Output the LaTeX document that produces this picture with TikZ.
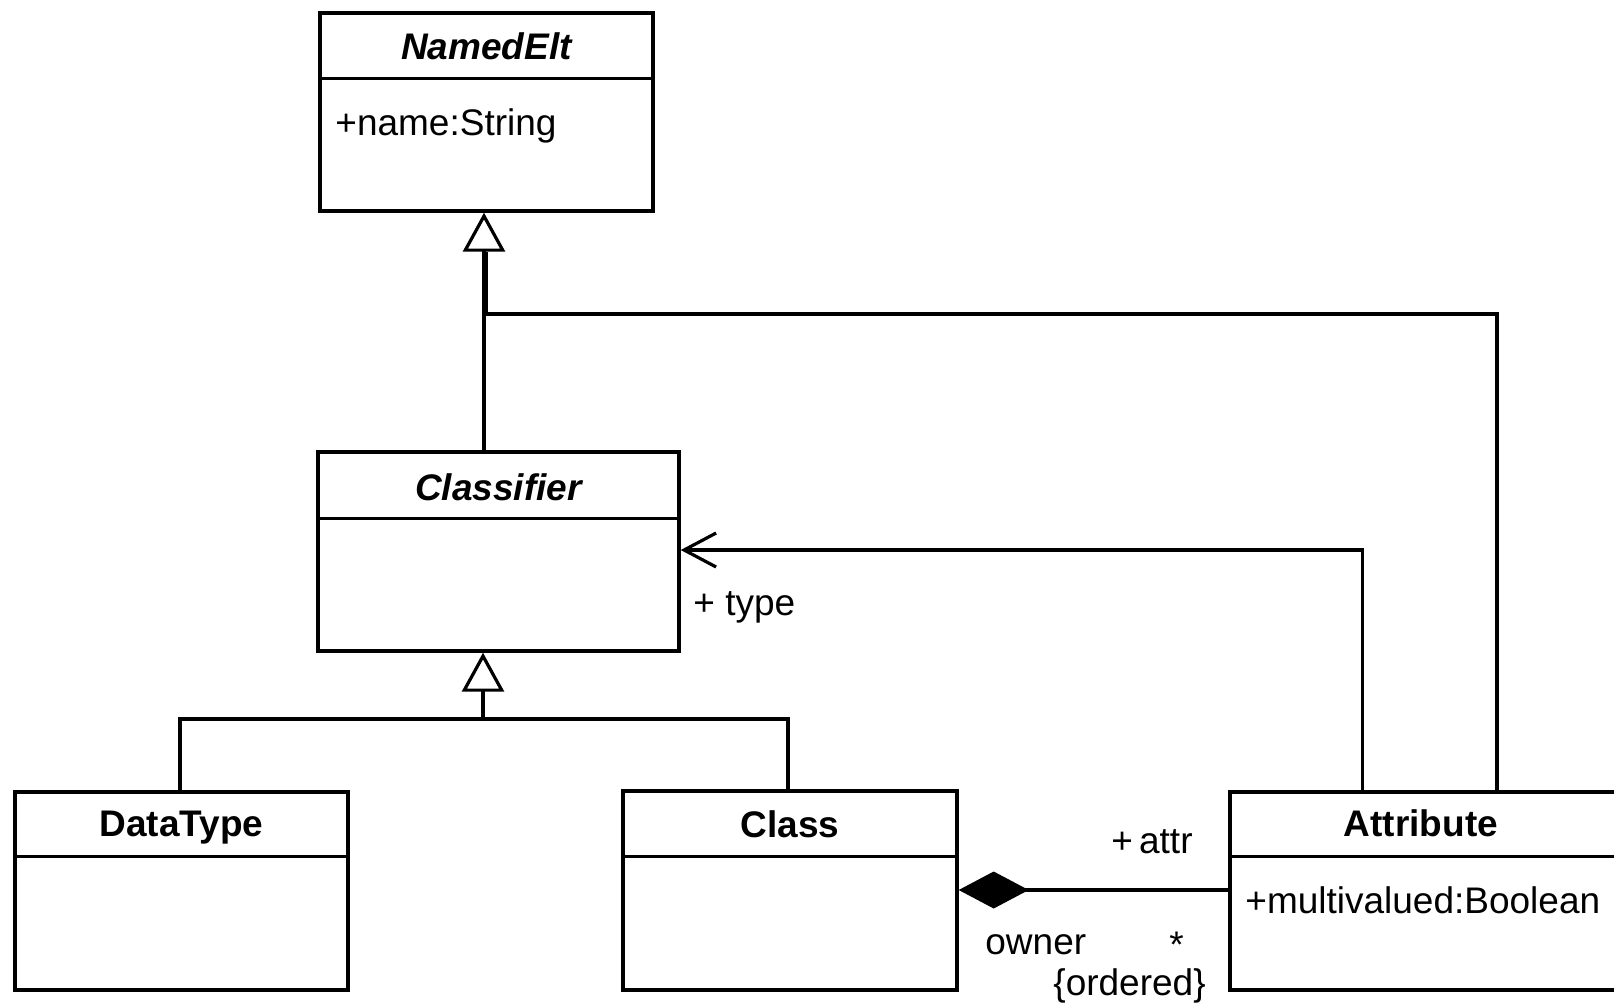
\documentclass[tikz,border=0pt]{standalone}
\usepackage{fontspec}
\setmainfont{Liberation Sans}
\usetikzlibrary{arrows.meta}

\tikzset{
  umlbox/.style={draw, line width=1.7pt, rectangle, inner sep=0pt},
  divider/.style={line width=1.7pt},
  conn/.style={line width=1.6pt},
  gen/.style={conn, -{Triangle[open, length=19.5pt, width=21pt, line width=1.6pt]}},
  nav/.style={conn, {Straight Barb[length=16pt, width=17pt, line width=1.6pt]}-},
  comp/.style={conn, {Diamond[length=35pt, width=18.5pt]}-},
  title/.style={anchor=base, inner sep=0pt, font=\fontsize{18.5}{22}\selectfont\bfseries},
  atitle/.style={title, font=\fontsize{18.5}{22}\selectfont\bfseries\itshape},
  member/.style={anchor=base west, inner sep=0pt, font=\fontsize{18.5}{22}\selectfont},
  role/.style={inner sep=0pt, font=\fontsize{18.5}{22}\selectfont},
}

\begin{document}
\begin{tikzpicture}[x=0.5pt, y=-0.5pt]
  \useasboundingbox (0,0) rectangle (1614,1003);

  % class boxes
  \node[umlbox, minimum width=166.5pt, minimum height=99pt]   (namedelt)   at (486.5,112)  {};
  \node[umlbox, minimum width=180.5pt, minimum height=99.5pt] (classifier) at (498.5,551.5) {};
  \node[umlbox, minimum width=166.5pt, minimum height=99pt]   (datatype)   at (181.5,891)  {};
  \node[umlbox, minimum width=167pt,   minimum height=99.5pt] (class)      at (790,890.5)  {};
  \node[umlbox, minimum width=195pt,   minimum height=99pt]   (attribute)  at (1425,891)   {};

  % compartment dividers
  \draw[divider] ([yshift=-33.5pt]namedelt.north west)   -- ([yshift=-33.5pt]namedelt.north east);
  \draw[divider] ([yshift=-34pt]classifier.north west)   -- ([yshift=-34pt]classifier.north east);
  \draw[divider] ([yshift=-33pt]datatype.north west)     -- ([yshift=-33pt]datatype.north east);
  \draw[divider] ([yshift=-33.5pt]class.north west)      -- ([yshift=-33.5pt]class.north east);
  \draw[divider] ([yshift=-33pt]attribute.north west)    -- ([yshift=-33pt]attribute.north east);

  % class names and members
  \node[atitle] (namedelt-name)   at (486.5,59)  {NamedElt};
  \node[member] (namedelt-attr)   at (335,135)   {+name:String};
  \node[atitle] (classifier-name) at (498.5,500) {Classifier};
  \node[title]  (datatype-name)   at (181.5,836) {DataType};
  \node[title]  (class-name)      at (790,837)   {Class};
  \node[title]  (attribute-name)  at (1421,836)  {Attribute};
  \node[member] (attribute-attr)  at (1245,913)  {+multivalued:Boolean};

  % routing points
  \coordinate (gx)    at (484,0);
  \coordinate (gbase) at (486.5,252);
  \coordinate (bend)  at (486.5,314);
  \coordinate (ax)    at (1497,0);
  \coordinate (tx)    at (1362.5,0);
  \coordinate (ty)    at (0,550);
  \coordinate (jn)    at (483,719);
  \coordinate (dx)    at (180,0);
  \coordinate (cx)    at (788,0);
  \coordinate (cy)    at (0,890);

  % generalisations towards NamedElt
  \draw[gen] (classifier.north -| gx) -- (namedelt.south -| gx);
  \draw[conn] (attribute.north -| ax) |- (bend) -- (gbase);

  % generalisations towards Classifier
  \draw[conn] (datatype.north -| dx) |- (jn) -| (class.north -| cx);
  \draw[gen] (jn) -- (classifier.south -| jn);

  % navigable association type
  \draw[nav] (classifier.east |- ty) -| (attribute.north -| tx);

  % composition owner / attr
  \draw[comp] (class.east |- cy) -- (attribute.west |- cy);

  % association end labels
  \node[role, anchor=base west] (type-lbl)    at (693,615)  {+ type};
  \node[role, anchor=base east] (attr-lbl)    at (1193,853) {+\,attr};
  \node[role, anchor=base west] (owner-lbl)   at (985,954)  {owner};
  \node[role, anchor=base west] (mult-lbl)    at (1169,957) {*};
  \node[role, anchor=base west] (ordered-lbl) at (1053,995) {\{ordered\}};
\end{tikzpicture}
\end{document}
